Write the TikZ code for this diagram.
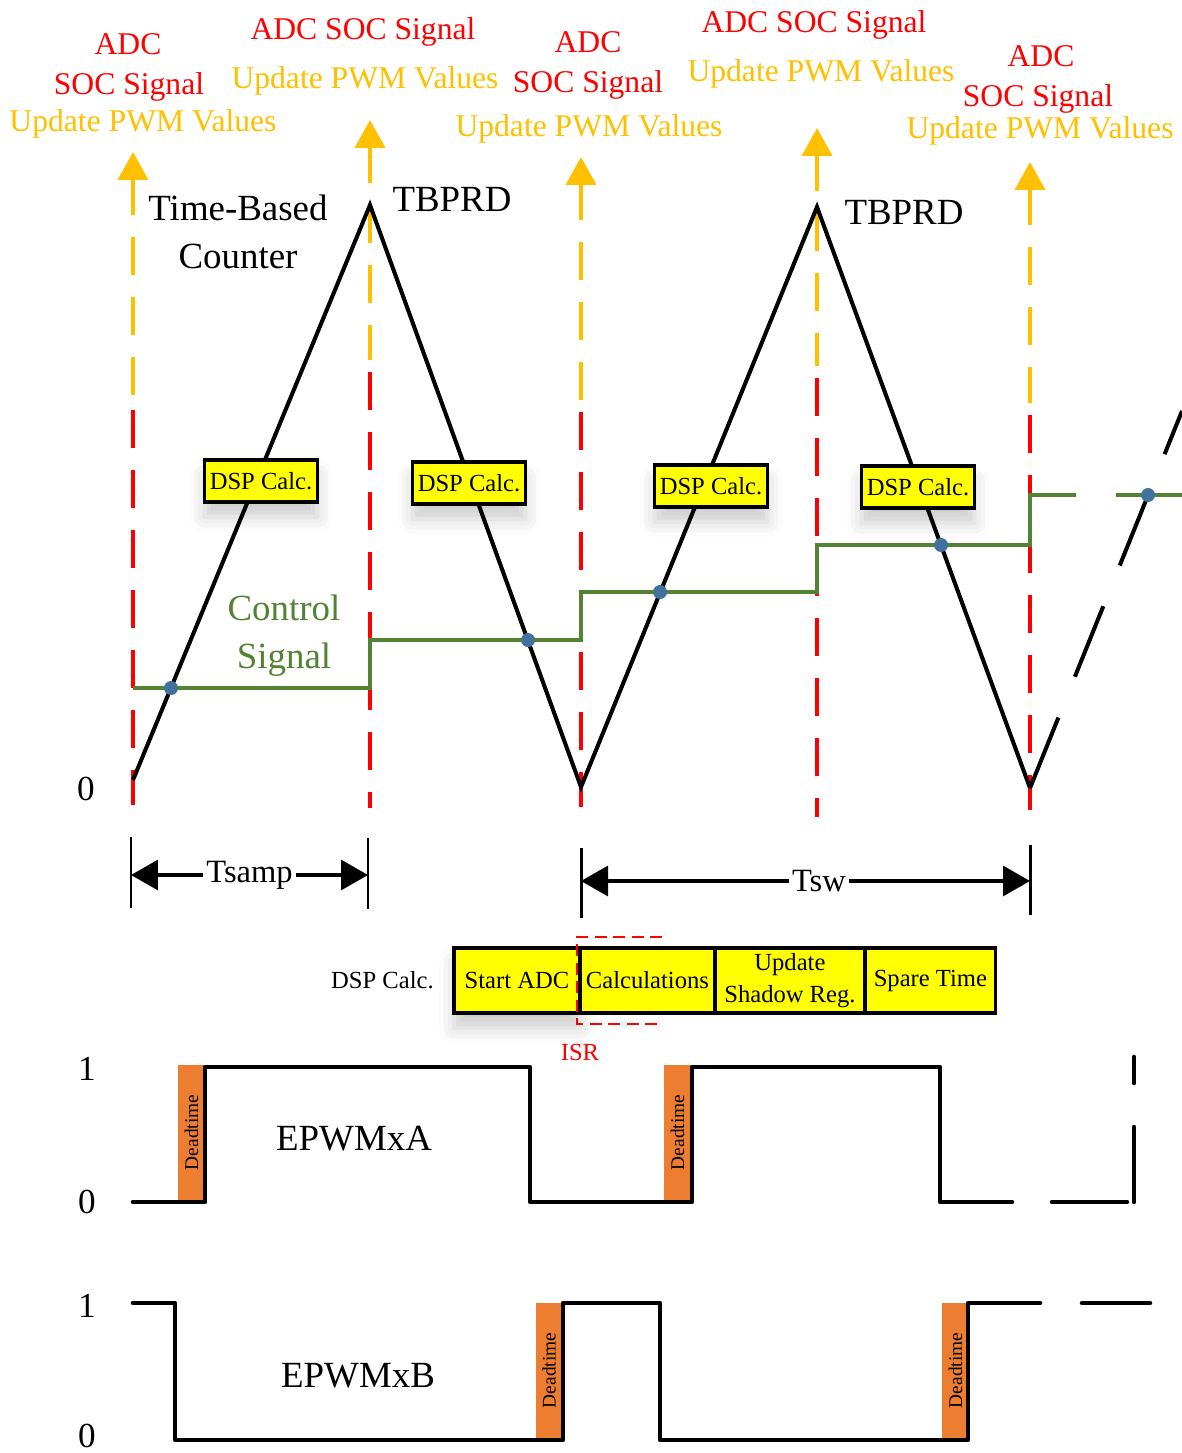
\documentclass[tikz,border=0pt]{standalone}
\usepackage{fontspec}
\setmainfont{Liberation Serif}
\usetikzlibrary{arrows.meta, positioning, shadows.blur}
\definecolor{socred}{RGB}{255,0,0}
\definecolor{socyellow}{RGB}{255,192,0}
\definecolor{ctrlgreen}{RGB}{84,130,53}
\definecolor{dotblue}{RGB}{65,113,156}
\definecolor{dtorange}{RGB}{237,125,49}
\definecolor{calcyellow}{RGB}{255,255,0}
\tikzset{
    redlabel/.style={anchor=base, text=socred, font=\fontsize{18}{20}\selectfont, inner sep=0pt},
    yellowlabel/.style={anchor=base, text=socyellow, font=\fontsize{18}{20}\selectfont, inner sep=0pt},
    blacklabel/.style={anchor=base, font=\fontsize{21}{24}\selectfont, inner sep=0pt},
    greenlabel/.style={anchor=base, text=ctrlgreen, font=\fontsize{21}{24}\selectfont, inner sep=0pt},
    levellabel/.style={font=\fontsize{20}{22}\selectfont, inner sep=0pt},
    socarrow/.style={draw=socyellow, line width=2.3pt, -{Triangle[length=0.56cm, width=0.6cm]}},
    socyellowdash/.style={draw=socyellow, line width=2.3pt, dash pattern=on 0.76cm off 0.44cm},
    socreddash/.style={draw=socred, line width=2.6pt, dash pattern=on 0.76cm off 0.44cm},
    counter/.style={draw=black, line width=2.3pt},
    ctrlsignal/.style={draw=ctrlgreen, line width=2.3pt},
    ctrldot/.style={fill=dotblue},
    dspbox/.style={draw=black, fill=calcyellow, line width=1.8pt, inner sep=2pt, minimum width=2.26cm, minimum height=0.84cm, font=\fontsize{14}{16}\selectfont, blur shadow={shadow xshift=0pt, shadow yshift=-0.3cm, shadow blur radius=0.3cm, shadow opacity=20}},
    calcbox/.style={draw=black, fill=calcyellow, line width=1.8pt, inner sep=1pt, outer sep=0pt, minimum height=1.3cm, align=center, font=\fontsize{14}{18.5}\selectfont},
    calclabel/.style={font=\fontsize{14}{16}\selectfont, inner sep=0pt},
    isrframe/.style={draw=socred, line width=1.1pt, dash pattern=on 0.24cm off 0.13cm},
    isrlabel/.style={text=socred, font=\fontsize{14}{16}\selectfont, inner sep=0pt},
    dimtick/.style={draw=black, line width=1.7pt},
    dimarrow/.style={draw=black, line width=1.8pt, {Triangle[length=0.54cm, width=0.6cm]}-{Triangle[length=0.54cm, width=0.6cm]}},
    dimlabel/.style={fill=white, inner sep=2pt, font=\fontsize{18.5}{20}\selectfont},
    pwm/.style={draw=black, line width=2.6pt, line cap=round, line join=round},
    deadbox/.style={fill=dtorange, rotate=90, minimum width=2.7cm, minimum height=0.54cm, inner sep=0pt, font=\fontsize{11}{12}\selectfont}
}

\begin{document}
\begin{tikzpicture}[x=0.02cm, y=-0.02cm]

        \useasboundingbox (0,0) rectangle (1182,1453);

        % -----------------------------------------------------------------
        % SOC / UPDATE EVENTS
        % -----------------------------------------------------------------
        \foreach \x/\tip/\red/\bot in {133/152/410/805, 370/120/372/808, 581/157/412/807, 817/128/378/817, 1030/162/415/810} {
            \draw[socarrow] (\x,\tip+63) -- (\x,\tip);
            \draw[socyellowdash] (\x,\tip+85) -- (\x,\red-12);
            \draw[socreddash] (\x,\red) -- (\x,\bot);
        }

        \node[redlabel] (adcA) at (128,55) {ADC};
        \node[redlabel] (socA) at (129,95) {SOC Signal};
        \node[yellowlabel] (updA) at (143,132) {Update PWM Values};

        \node[redlabel] (socB) at (363,40) {ADC SOC Signal};
        \node[yellowlabel] (updB) at (365,89) {Update PWM Values};

        \node[redlabel] (adcC) at (588,53) {ADC};
        \node[redlabel] (socC) at (588,93) {SOC Signal};
        \node[yellowlabel] (updC) at (589,137) {Update PWM Values};

        \node[redlabel] (socD) at (814,33) {ADC SOC Signal};
        \node[yellowlabel] (updD) at (821,82) {Update PWM Values};

        \node[redlabel] (adcE) at (1041,67) {ADC};
        \node[redlabel] (socE) at (1038,107) {SOC Signal};
        \node[yellowlabel] (updE) at (1040,139) {Update PWM Values};

        % -----------------------------------------------------------------
        % TIME-BASED COUNTER
        % -----------------------------------------------------------------
        \coordinate (zero0) at (133,780);
        \coordinate (peak1) at (370,205);
        \coordinate (zero1) at (581,787);
        \coordinate (peak2) at (817,207);
        \coordinate (zero2) at (1030,788);
        \coordinate (rampend) at (1182,411);

        \draw[counter] (zero0) -- (peak1) -- (zero1) -- (peak2) -- (zero2);
        \draw[counter, dash pattern=on 1.52cm off 0.88cm] (zero2) -- (rampend);

        \node[blacklabel] (tbc) at (238,220) {Time-Based};
        \node[blacklabel] (cnt) at (238,268) {Counter};
        \node[blacklabel] (prdA) at (452,212) {TBPRD};
        \node[blacklabel] (prdB) at (904,225) {TBPRD};
        \node[levellabel] (zeroc) at (86,789) {0};

        % -----------------------------------------------------------------
        % CONTROL SIGNAL
        % -----------------------------------------------------------------
        \draw[ctrlsignal] (133,688) -- (370,688) -- (370,640) -- (581,640) -- (581,592) -- (817,592) -- (817,545) -- (1030,545) -- (1030,495) -- (1076,495);
        \draw[ctrlsignal] (1116,495) -- (1182,495);

        \fill[ctrldot] (171,688) circle (0.14cm);
        \fill[ctrldot] (528,640) circle (0.14cm);
        \fill[ctrldot] (660,592) circle (0.14cm);
        \fill[ctrldot] (941,545) circle (0.14cm);
        \fill[ctrldot] (1148,495) circle (0.14cm);

        \node[greenlabel] (ctrlA) at (284,620) {Control};
        \node[greenlabel] (ctrlB) at (284,668) {Signal};

        \node[dspbox] (dspA) at (261,481) {DSP Calc.};
        \node[dspbox] (dspB) at (469,483) {DSP Calc.};
        \node[dspbox] (dspC) at (711,486) {DSP Calc.};
        \node[dspbox] (dspD) at (918,487) {DSP Calc.};

        % -----------------------------------------------------------------
        % PERIODS
        % -----------------------------------------------------------------
        \draw[dimtick] (131,837) -- (131,908);
        \draw[dimtick] (368,838) -- (368,909);
        \coordinate (sampL) at (131,875);
        \coordinate (sampR) at (368,875);
        \draw[dimarrow] (sampL) -- node[dimlabel] (tsamp) {Tsamp} (sampR);

        \draw[dimtick] (581,848) -- (581,918);
        \draw[dimtick] (1030,845) -- (1030,915);
        \coordinate (swL) at (581,881);
        \coordinate (swR) at (1030,881);
        \draw[dimarrow] (swL) -- node[dimlabel, pos=0.53] (tsw) {Tsw} (swR);

        % -----------------------------------------------------------------
        % DSP CALCULATION SEQUENCE
        % -----------------------------------------------------------------
        \node[calcbox, minimum width=2.52cm, anchor=north west, blur shadow={shadow xshift=0pt, shadow yshift=-0.3cm, shadow blur radius=0.3cm, shadow opacity=20}] (startadc) at (454,948) {Start ADC};
        \node[calcbox, minimum width=2.7cm, right=0pt of startadc] (calcs) {Calculations};
        \node[calcbox, minimum width=3.0cm, right=0pt of calcs] (shadowreg) {Update\\Shadow Reg.};
        \node[calcbox, minimum width=2.62cm, right=0pt of shadowreg] (spare) {Spare Time};
        \node[calclabel, left=0.4cm of startadc] (dsplabel) {DSP Calc.};

        \draw[isrframe] (662,937) -- (577,937) -- (577,1024) -- (662,1024);
        \node[isrlabel] (isr) at (580,1052) {ISR};

        % -----------------------------------------------------------------
        % EPWMxA
        % -----------------------------------------------------------------
        \node[deadbox] (dtA1) at (191.5,1132.5) {Deadtime};
        \node[deadbox] (dtA2) at (677.5,1132.5) {Deadtime};
        \draw[pwm] (133,1202) -- (205,1202) -- (205,1067) -- (530,1067) -- (530,1202) -- (692,1202) -- (692,1067) -- (940,1067) -- (940,1202) -- (1012,1202);
        \draw[pwm] (1052,1202) -- (1127,1202);
        \draw[pwm] (1134,1202) -- (1134,1127);
        \draw[pwm] (1134,1083) -- (1134,1057);
        \node[blacklabel] (pwmA) at (354,1150) {EPWMxA};
        \node[levellabel] (oneA) at (87,1069) {1};
        \node[levellabel] (zeroA) at (87,1202) {0};

        % -----------------------------------------------------------------
        % EPWMxB
        % -----------------------------------------------------------------
        \node[deadbox] (dtB1) at (549,1370.5) {Deadtime};
        \node[deadbox] (dtB2) at (955.5,1370.5) {Deadtime};
        \draw[pwm] (133,1303) -- (175,1303) -- (175,1440) -- (563,1440) -- (563,1303) -- (660,1303) -- (660,1440) -- (968,1440) -- (968,1303) -- (1040,1303);
        \draw[pwm] (1082,1303) -- (1150,1303);
        \node[blacklabel] (pwmB) at (358,1387) {EPWMxB};
        \node[levellabel] (oneB) at (87,1306) {1};
        \node[levellabel] (zeroB) at (87,1436) {0};

\end{tikzpicture}
\end{document}
